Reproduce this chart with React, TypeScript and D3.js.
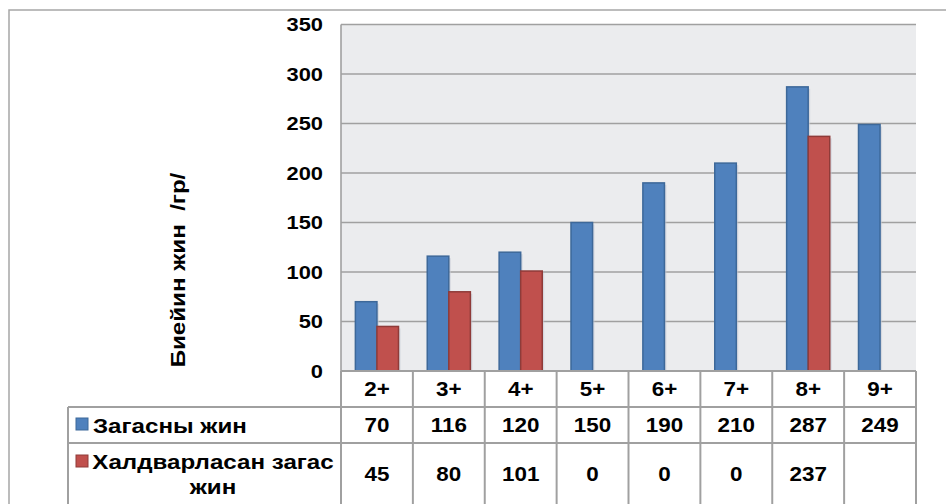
import React from "react";
import * as d3 from "d3";

// Age groups and weights (grams)
const categories = ["2+", "3+", "4+", "5+", "6+", "7+", "8+", "9+"];
const fishWeight = [70, 116, 120, 150, 190, 210, 287, 249];
const infectedWeight: (number | null)[] = [45, 80, 101, 0, 0, 0, 237, null];
const yTicks = [0, 50, 100, 150, 200, 250, 300, 350];
const seriesNames = ["Загасны жин", "Халдварласан загас", "жин"];
const yTitle = "Биейин жин\u00a0\u00a0/гр/";

const W = 946;
const H = 504;
const plotLeft = 341;
const plotRight = 916;
const plotTop = 24.5;
const plotBottom = 371;
const tableLeft = 68;
const rowBounds = [371, 407, 443, 506];

const FONT = "'Liberation Sans', Arial, sans-serif";
const SX = 1.15; // horizontal stretch of the lettering
const GRID = "#a0a0a0";
const BLUE = "#4f81bd";
const BLUE_EDGE = "#3d6899";
const RED = "#c0504d";
const RED_EDGE = "#8f3b39";

type LabelProps = {
  x: number;
  y: number;
  size: number;
  anchor?: "start" | "middle" | "end";
  rotate?: number;
  children: React.ReactNode;
};

function Label({ x, y, size, anchor = "middle", rotate = 0, children }: LabelProps) {
  return (
    <text
      transform={`translate(${x},${y}) rotate(${rotate}) scale(${SX},1)`}
      textAnchor={anchor}
      dy="0.36em"
      fontSize={size}
      fill="#000"
    >
      {children}
    </text>
  );
}

export default function App() {
  const x = d3.scaleBand<string>().domain(categories).range([plotLeft, plotRight]);
  const y = d3.scaleLinear().domain([0, 350]).range([plotBottom, plotTop]);
  const bw = x.bandwidth();
  const barW = bw * 0.3;
  const gap = (bw - 2 * barW) / 2;

  const series = [
    { values: fishWeight as (number | null)[], fill: BLUE, edge: BLUE_EDGE },
    { values: infectedWeight, fill: RED, edge: RED_EDGE },
  ];

  const rowMid = (i: number) => (rowBounds[i] + rowBounds[i + 1]) / 2;

  return (
    <svg
      width={W}
      height={H}
      style={{ position: "absolute", left: 0, top: 0, background: "#fff" }}
      fontFamily={FONT}
      fontWeight="bold"
    >
      {/* chart frame */}
      <rect x={9} y={10} width={W + 20} height={H + 20} fill="#fff" stroke="#a6a6a6" strokeWidth={1.5} />

      {/* plot background */}
      <rect x={plotLeft} y={plotTop} width={plotRight - plotLeft} height={plotBottom - plotTop} fill="#ebecee" />

      {/* gridlines */}
      {yTicks.map((t) => (
        <line key={t} x1={plotLeft} x2={plotRight} y1={y(t)} y2={y(t)} stroke={GRID} strokeWidth={1.6} />
      ))}
      <line x1={plotLeft} x2={plotLeft} y1={plotTop} y2={plotBottom} stroke={GRID} strokeWidth={1.6} />

      {/* y tick labels */}
      {yTicks.map((t) => (
        <Label key={t} x={323} y={y(t)} size={19} anchor="end">
          {t}
        </Label>
      ))}

      {/* y axis title */}
      <Label x={177} y={270} size={21} rotate={-90}>
        {yTitle}
      </Label>

      {/* bars */}
      {series.map((s, si) =>
        categories.map((c, ci) => {
          const v = s.values[ci];
          if (v == null || v <= 0) return null;
          const bx = (x(c) as number) + gap + si * barW;
          const by = y(v);
          return (
            <g key={`${si}-${ci}`}>
              <rect x={bx + 2} y={by + 2} width={barW} height={plotBottom - by - 2} fill="#c7cbd6" opacity={0.6} />
              <rect x={bx} y={by} width={barW} height={plotBottom - by} fill={s.fill} stroke={s.edge} strokeWidth={1.5} />
            </g>
          );
        })
      )}

      {/* data table */}
      <g fill="none" stroke={GRID} strokeWidth={2}>
        <line x1={plotLeft} x2={plotRight} y1={rowBounds[0]} y2={rowBounds[0]} />
        <line x1={tableLeft} x2={plotRight} y1={rowBounds[1]} y2={rowBounds[1]} />
        <line x1={tableLeft} x2={plotRight} y1={rowBounds[2]} y2={rowBounds[2]} />
        <line x1={tableLeft} x2={tableLeft} y1={rowBounds[1]} y2={rowBounds[3]} />
        {categories.map((c) => (
          <line key={c} x1={x(c) as number} x2={x(c) as number} y1={rowBounds[0]} y2={rowBounds[3]} />
        ))}
        <line x1={plotRight} x2={plotRight} y1={rowBounds[0]} y2={rowBounds[3]} />
      </g>

      {categories.map((c, ci) => {
        const cx = (x(c) as number) + bw / 2;
        const v2 = infectedWeight[ci];
        return (
          <g key={c}>
            <Label x={cx} y={rowMid(0)} size={19.5}>{c}</Label>
            <Label x={cx} y={rowMid(1)} size={19.5}>{fishWeight[ci]}</Label>
            {v2 != null && <Label x={cx} y={rowMid(2) - 1} size={19.5}>{v2}</Label>}
          </g>
        );
      })}

      {/* legend keys in the table */}
      <rect x={76} y={418} width={12} height={12} fill={BLUE} stroke={BLUE_EDGE} strokeWidth={1} />
      <Label x={93} y={rowMid(1)} size={21} anchor="start">
        {seriesNames[0]}
      </Label>
      <rect x={76} y={455} width={12} height={12} fill={RED} stroke={RED_EDGE} strokeWidth={1} />
      <Label x={213} y={461} size={21}>
        {seriesNames[1]}
      </Label>
      <Label x={213} y={486} size={21}>
        {seriesNames[2]}
      </Label>
    </svg>
  );
}
